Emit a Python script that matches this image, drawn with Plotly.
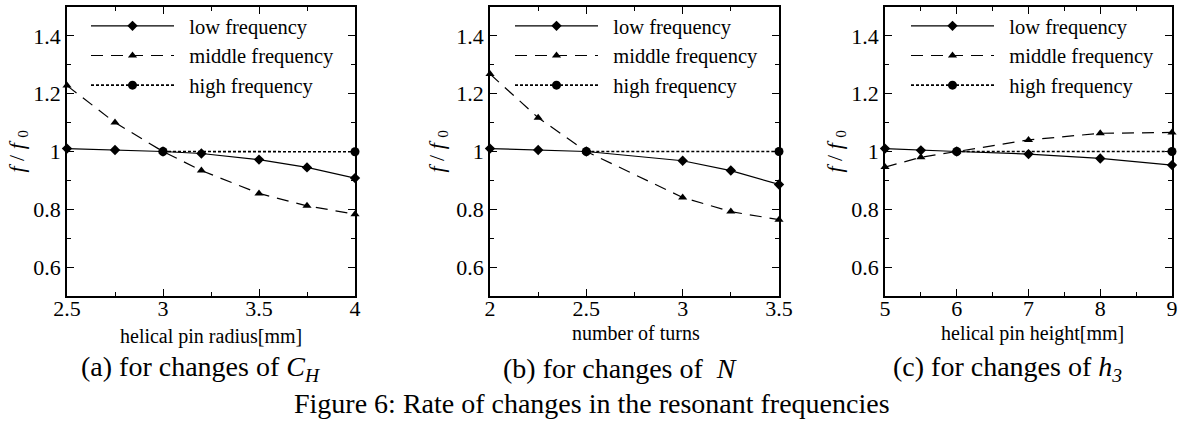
import plotly.graph_objects as go

W, H = 1183, 421
FONT = "Liberation Serif"

# ---------------- data ----------------
radius_mm = [2.5, 2.75, 3.0, 3.2, 3.5, 3.75, 4.0]
radius_low = [1.010, 1.005, 1.000, 0.993, 0.972, 0.945, 0.908]
radius_mid = [1.228, 1.100, 1.000, 0.934, 0.855, 0.812, 0.783]
radius_high_x = [3.0, 4.0]
radius_high = [1.000, 0.999]

turns = [2.0, 2.25, 2.5, 3.0, 3.25, 3.5]
turns_low = [1.010, 1.005, 1.000, 0.968, 0.934, 0.886]
turns_mid = [1.268, 1.117, 1.000, 0.841, 0.792, 0.764]
turns_high_x = [2.5, 3.5]
turns_high = [1.000, 1.000]

height_mm = [5.0, 5.5, 6.0, 7.0, 8.0, 9.0]
height_low = [1.010, 1.004, 1.000, 0.991, 0.976, 0.953]
height_mid = [0.946, 0.980, 1.000, 1.040, 1.063, 1.066]
height_high_x = [6.0, 9.0]
height_high = [1.000, 1.000]

series_names = ["low frequency", "middle frequency", "high frequency"]
x_titles = ["helical pin radius[mm]", "number of turns", "helical pin height[mm]"]
captions = ["(a) for changes of <i>C</i><sub><i>H</i></sub>",
            "(b) for changes of  <i>N</i>",
            "(c) for changes of <i>h</i><sub><i>3</i></sub>"]
fig_title = "Figure 6: Rate of changes in the resonant frequencies"
y_title = "<i>f</i> / <i>f</i> <sub>0</sub>"

panels = [
    (radius_mm, radius_low, radius_mid, radius_high_x, radius_high),
    (turns, turns_low, turns_mid, turns_high_x, turns_high),
    (height_mm, height_low, height_mid, height_high_x, height_high),
]

# ---------------- geometry (pixels) ----------------
plot_left = [67, 490, 885]
plot_right = [355, 779, 1172]
plot_top, plot_bottom = 7, 296
x_ranges = [[2.5, 4.0], [2.0, 3.5], [5.0, 9.0]]
x_dticks = [0.5, 0.5, 1.0]
x_minor = [0.25, 0.25, 0.5]
legend_px = [(86, 6), (510, 6), (906, 6)]
ytitle_px = [17, 437, 835]
xtitle_px = [(211, 336), (636, 333), (1032, 333)]
caption_px = [(201, 368), (620, 368), (1007, 368)]


def px(x):
    return x / W


def py(y):
    return 1 - y / H


fig = go.Figure()

for i, (xs, lo, mid, hx, hi) in enumerate(panels):
    sfx = "" if i == 0 else str(i + 1)
    leg = "legend" + sfx
    common = dict(xaxis="x" + sfx, yaxis="y" + sfx, legend=leg, cliponaxis=False)
    fig.add_trace(go.Scatter(
        x=xs, y=lo, name="\u2002" + series_names[0], mode="lines+markers",
        line=dict(color="black", width=1.2, dash="solid"),
        marker=dict(symbol="diamond", size=8, color="black"), **common))
    fig.add_trace(go.Scatter(
        x=xs, y=mid, name="\u2002" + series_names[1], mode="lines+markers",
        line=dict(color="black", width=1.2, dash="12px,8px"),
        marker=dict(symbol="triangle-up", size=8, color="black"), **common))
    fig.add_trace(go.Scatter(
        x=hx, y=hi, name="\u2002" + series_names[2], mode="lines+markers",
        line=dict(color="black", width=1.6, dash="3px,2px"),
        marker=dict(symbol="circle", size=9, color="black"), **common))

axis_common = dict(
    showline=True, linecolor="black", linewidth=1.5, mirror="ticks",
    ticks="inside", ticklen=7, tickwidth=1.2, tickcolor="black",
    showgrid=False, zeroline=False,
    tickfont=dict(family=FONT, size=22, color="black"),
)

layout = dict(
    width=W, height=H,
    margin=dict(l=0, r=0, t=0, b=0),
    paper_bgcolor="white", plot_bgcolor="white",
    font=dict(family=FONT, color="black"),
    showlegend=True,
)

annotations = []
for i in range(3):
    sfx = "" if i == 0 else str(i + 1)
    layout["xaxis" + sfx] = dict(
        axis_common, domain=[px(plot_left[i]), px(plot_right[i])],
        range=x_ranges[i], tick0=x_ranges[i][0], dtick=x_dticks[i],
        anchor="y" + sfx, automargin=False, ticklabelstandoff=-8,
        minor=dict(ticks="inside", ticklen=4, tickwidth=1.2, tickcolor="black",
                   dtick=x_minor[i], tick0=x_ranges[i][0], showgrid=False),
    )
    layout["yaxis" + sfx] = dict(
        axis_common, domain=[py(plot_bottom), py(plot_top)],
        range=[0.5, 1.5], tick0=0, dtick=0.2,
        anchor="x" + sfx, automargin=False,
        minor=dict(ticks="inside", ticklen=4, tickwidth=1.2, tickcolor="black",
                   dtick=0.1, tick0=0, showgrid=False),
    )
    lx, ly = legend_px[i]
    layout["legend" + sfx] = dict(
        x=px(lx), y=py(ly), xanchor="left", yanchor="top",
        bgcolor="rgba(0,0,0,0)", borderwidth=0,
        font=dict(family=FONT, size=20.5, color="black"),
        itemwidth=83, tracegroupgap=0, traceorder="normal",
    )
    annotations.append(dict(
        text=y_title, textangle=-90, xref="paper", yref="paper",
        x=px(ytitle_px[i]), y=py((plot_top + plot_bottom) / 2),
        xanchor="center", yanchor="middle", showarrow=False,
        font=dict(family=FONT, size=22, color="black")))
    annotations.append(dict(
        text=x_titles[i], xref="paper", yref="paper",
        x=px(xtitle_px[i][0]), y=py(xtitle_px[i][1]),
        xanchor="center", yanchor="middle", showarrow=False,
        font=dict(family=FONT, size=20, color="black")))
    annotations.append(dict(
        text=captions[i], xref="paper", yref="paper",
        x=px(caption_px[i][0]), y=py(caption_px[i][1]),
        xanchor="center", yanchor="middle", showarrow=False,
        font=dict(family=FONT, size=28, color="black")))

annotations.append(dict(
    text=fig_title, xref="paper", yref="paper",
    x=px(592), y=py(403), xanchor="center", yanchor="middle", showarrow=False,
    font=dict(family=FONT, size=28, color="black")))

layout["annotations"] = annotations
fig.update_layout(**layout)

fig.write_html("out.html")
